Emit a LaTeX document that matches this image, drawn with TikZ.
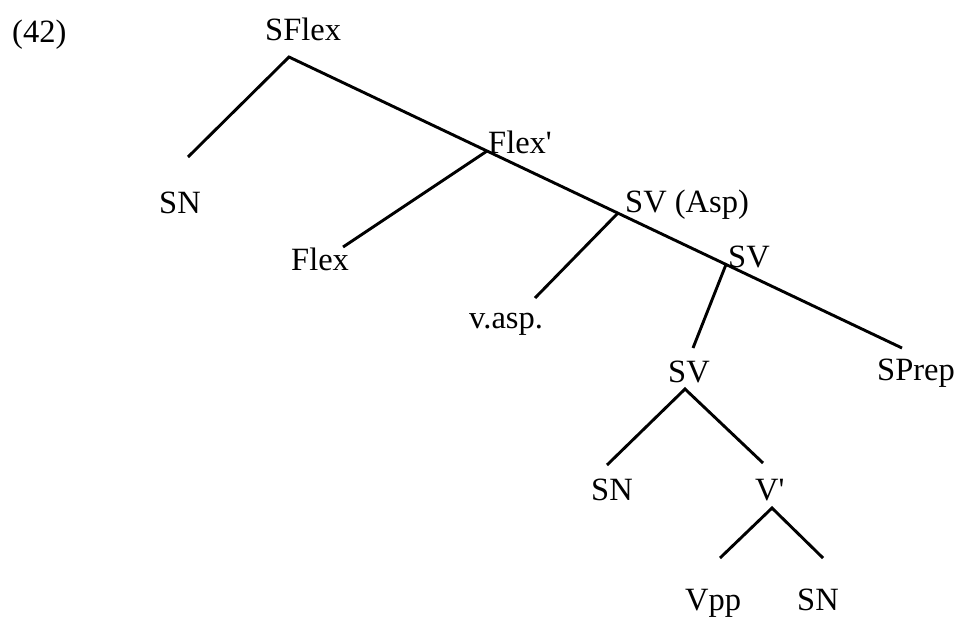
\documentclass[tikz,border=0pt]{standalone}
\usepackage{fontspec}
\setmainfont{Liberation Serif}
\begin{document}
\begin{tikzpicture}[x=1pt,y=-1pt,
  lbl/.style={inner sep=0pt,anchor=base west,font=\fontsize{32.5}{36}\selectfont},
  br/.style={line width=2.9pt,line cap=butt,line join=miter}]
\useasboundingbox (0,0) rectangle (960,619);
% labels
\node[lbl] (num) at (12,42) {(42)};
\node[lbl] (sflex) at (265,40) {SFlex};
\node[lbl] (sn1) at (159,213) {SN};
\node[lbl] (flexbar) at (488,153) {Flex\textquotesingle};
\node[lbl] (flex) at (291,270) {Flex};
\node[lbl] (svasp) at (625,212) {SV (Asp)};
\node[lbl] (vasp) at (469,328) {v.asp.};
\node[lbl] (sv1) at (728,267) {SV};
\node[lbl] (sprep) at (877,380) {SPrep};
\node[lbl] (sv2) at (668,382) {SV};
\node[lbl] (sn2) at (591,500) {SN};
\node[lbl] (vbar) at (755,500) {V\textquotesingle};
\node[lbl] (vpp) at (685,610.5) {Vpp};
\node[lbl] (sn3) at (797,610.5) {SN};
% branch points
\coordinate (a) at (289,57);
\coordinate (pflex) at (487,151);
\coordinate (pasp) at (618,213);
\coordinate (psv) at (726,264.5);
\coordinate (end) at (902,348);
\coordinate (esn1) at (188,157);
\coordinate (eflex) at (343,247);
\coordinate (evasp) at (535,298);
\coordinate (esv2) at (693,348);
\coordinate (psv2) at (685,389);
\coordinate (esn2) at (607,465);
\coordinate (evbar) at (763,463);
\coordinate (pvbar) at (772,508);
\coordinate (evpp) at (720,558);
\coordinate (esn3) at (823,558);
% connectors
\draw[br] (esn1) -- (a) -- (end);
\draw[br] (pflex) -- (eflex);
\draw[br] (pasp) -- (evasp);
\draw[br] (psv) -- (esv2);
\draw[br] (esn2) -- (psv2) -- (evbar);
\draw[br] (evpp) -- (pvbar) -- (esn3);
\end{tikzpicture}
\end{document}
